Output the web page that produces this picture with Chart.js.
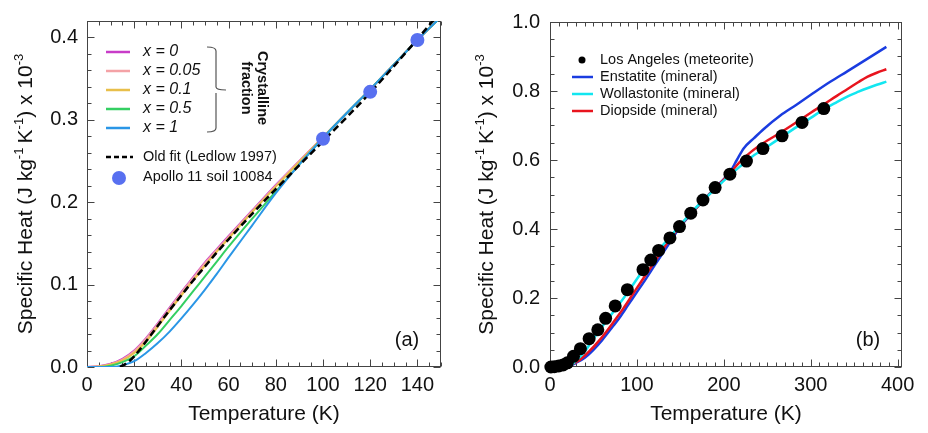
<!DOCTYPE html>
<html>
<head>
<meta charset="utf-8">
<script src="https://cdn.jsdelivr.net/npm/chart.js@4.4.1/dist/chart.umd.min.js"></script>
<style>
  html, body { margin: 0; padding: 0; background: #fff; }
  #wrap { position: relative; width: 928px; height: 433px; overflow: hidden; }
  .panel { position: absolute; top: 0; width: 464px; height: 433px; }
  #pa { left: 0; }
  #pb { left: 464px; }
</style>
</head>
<body>
<div id="wrap">
  <div class="panel" id="pa"><canvas id="ca" width="464" height="433"></canvas></div>
  <div class="panel" id="pb"><canvas id="cb" width="464" height="433"></canvas></div>
</div>
<script>
// ---------- Panel (a): regolith model for several crystalline fractions ----------
const tempA   = [0, 5, 10, 15, 20, 25, 30, 35, 40, 45, 50, 55, 60, 70, 80, 90, 100, 110, 120, 130, 140, 150];
const cpX0    = [0, 0.001, 0.004, 0.010, 0.020, 0.035, 0.053, 0.072, 0.091, 0.109, 0.127, 0.143, 0.159, 0.190, 0.221, 0.250, 0.279, 0.308, 0.337, 0.367, 0.397, 0.425];
const cpX005  = [0, 0.0008, 0.0035, 0.009, 0.019, 0.034, 0.052, 0.071, 0.090, 0.108, 0.126, 0.142, 0.158, 0.189, 0.220, 0.250, 0.279, 0.308, 0.337, 0.367, 0.397, 0.425];
const cpX01   = [0, 0.0005, 0.003, 0.008, 0.017, 0.031, 0.049, 0.068, 0.087, 0.105, 0.123, 0.140, 0.156, 0.188, 0.219, 0.249, 0.279, 0.308, 0.337, 0.367, 0.397, 0.425];
const cpX05   = [0, 0, 0.0015, 0.006, 0.013, 0.026, 0.040, 0.057, 0.074, 0.092, 0.110, 0.128, 0.146, 0.180, 0.213, 0.246, 0.278, 0.308, 0.337, 0.367, 0.397, 0.425];
const cpX1    = [0, 0, 0, 0.002, 0.007, 0.017, 0.029, 0.043, 0.059, 0.076, 0.094, 0.113, 0.133, 0.172, 0.211, 0.246, 0.278, 0.308, 0.337, 0.367, 0.397, 0.425];
const tempOldFit = [14, 17, 20, 25, 30, 35, 40, 45, 50, 55, 60, 70, 80, 90, 100, 110, 120, 130, 140, 150];
const cpOldFit   = [0, 0.005, 0.013, 0.031, 0.050, 0.069, 0.087, 0.105, 0.122, 0.139, 0.155, 0.186, 0.216, 0.245, 0.274, 0.303, 0.333, 0.365, 0.398, 0.432];
const apolloT  = [100, 120, 140];
const apolloCp = [0.277, 0.334, 0.397];
const xTicksA  = [0, 20, 40, 60, 80, 100, 120, 140];
const yTicksA  = [0.0, 0.1, 0.2, 0.3, 0.4];

// ---------- Panel (b): Los Angeles meteorite and pyroxene-group minerals ----------
const laT  = [1, 5, 10, 15, 20, 27, 35, 45, 55, 64, 75, 89, 107, 116, 125, 138, 149, 162, 176, 190, 207, 226, 245, 267, 290, 315];
const laCp = [0, 0.001, 0.003, 0.006, 0.012, 0.031, 0.053, 0.082, 0.108, 0.141, 0.177, 0.224, 0.282, 0.310, 0.338, 0.374, 0.407, 0.446, 0.484, 0.520, 0.559, 0.597, 0.633, 0.670, 0.709, 0.749];
const enstatiteT  = [20, 25, 30, 40, 50, 60, 70, 80, 90, 100, 110, 120, 135, 150, 165, 180, 195, 207, 215, 223, 235, 246, 265, 284, 303, 322, 342, 365, 387];
const enstatiteCp = [0, 0.006, 0.012, 0.027, 0.050, 0.078, 0.110, 0.143, 0.180, 0.217, 0.254, 0.293, 0.350, 0.407, 0.451, 0.493, 0.532, 0.565, 0.600, 0.634, 0.664, 0.690, 0.729, 0.761, 0.794, 0.826, 0.857, 0.893, 0.928];
const wollastoniteT  = [22, 30, 40, 50, 60, 70, 80, 90, 100, 110, 120, 135, 150, 165, 180, 195, 207, 220, 232, 246, 265, 284, 300, 315, 330, 342, 355, 365, 376, 387];
const wollastoniteCp = [0, 0.018, 0.045, 0.082, 0.117, 0.150, 0.184, 0.218, 0.255, 0.292, 0.325, 0.368, 0.412, 0.454, 0.492, 0.528, 0.556, 0.584, 0.609, 0.632, 0.664, 0.696, 0.722, 0.747, 0.768, 0.784, 0.798, 0.808, 0.818, 0.827];
const diopsideT  = [20, 25, 35, 45, 55, 65, 75, 85, 95, 105, 115, 125, 135, 150, 165, 180, 195, 207, 220, 232, 246, 265, 284, 300, 315, 330, 342, 355, 365, 376, 387];
const diopsideCp = [0, 0.007, 0.022, 0.045, 0.072, 0.103, 0.137, 0.172, 0.210, 0.248, 0.285, 0.323, 0.360, 0.410, 0.452, 0.492, 0.530, 0.562, 0.598, 0.625, 0.650, 0.679, 0.710, 0.737, 0.761, 0.786, 0.805, 0.826, 0.841, 0.853, 0.863];
const xTicksB = [0, 100, 200, 300, 400];
const yTicksB = [0.0, 0.2, 0.4, 0.6, 0.8, 1.0];

const FONT = "'Liberation Sans', Arial, Helvetica, sans-serif";
const INK = '#111';
Chart.defaults.font.family = FONT;
Chart.defaults.color = INK;

const pts = (xs, ys) => xs.map((v, i) => ({ x: v, y: ys[i] }));

function curve(label, xs, ys, color, order, extra) {
  return Object.assign({
    label, data: pts(xs, ys), borderColor: color, backgroundColor: color,
    borderWidth: 2, pointRadius: 0, fill: false, order,
    cubicInterpolationMode: 'monotone'
  }, extra || {});
}
function dots(label, xs, ys, color, radius, order, extra) {
  return Object.assign({
    label, data: pts(xs, ys), showLine: false, borderColor: color,
    backgroundColor: color, pointBackgroundColor: color, pointBorderWidth: 0,
    pointRadius: radius, order
  }, extra || {});
}

// y-axis title with raised exponents, drawn rotated
const yTitleParts = [
  { t: 'Specific Heat (J kg' }, { t: '-1', sup: true }, { t: '\u2009K' },
  { t: '-1', sup: true }, { t: ') x 10' }, { t: '-3', sup: true }
];
function drawYTitle(ctx, cx, cy, size) {
  ctx.save();
  ctx.translate(cx, cy);
  ctx.rotate(-Math.PI / 2);
  ctx.fillStyle = INK;
  ctx.textBaseline = 'alphabetic';
  ctx.textAlign = 'left';
  const items = yTitleParts.map(p => {
    const fs = p.sup ? size * 0.62 : size;
    ctx.font = fs + 'px ' + FONT;
    return { p, fs, w: ctx.measureText(p.t).width };
  });
  const total = items.reduce((s, it) => s + it.w, 0);
  let x = -total / 2;
  const base = size * 0.3;
  items.forEach(it => {
    ctx.font = it.fs + 'px ' + FONT;
    ctx.fillText(it.p.t, x, it.p.sup ? base - size * 0.42 : base);
    x += it.w;
  });
  ctx.restore();
}

// frame on all four sides with inward major/minor ticks, taken from the scales
function axesFrame(spec) {
  return {
    id: 'axesFrame',
    beforeDatasetsDraw(chart) {
      const { ctx, chartArea: a, scales: { x, y } } = chart;
      const L = Math.round(a.left) + 0.5, R = Math.round(a.right) - 0.5;
      const T = Math.round(a.top) + 0.5, B = Math.round(a.bottom) - 0.5;
      ctx.save();
      ctx.strokeStyle = '#444';
      ctx.lineWidth = 1;
      ctx.beginPath();
      const nx = Math.round((x.max - x.min) / spec.xMinor);
      for (let i = 0; i <= nx; i++) {
        const v = x.min + i * spec.xMinor;
        if (v > x.max + 1e-9) break;
        const r = v / spec.xMajor;
        const len = Math.abs(r - Math.round(r)) < 1e-6 ? 7 : 4;
        const px = Math.round(x.getPixelForValue(v)) + 0.5;
        ctx.moveTo(px, B); ctx.lineTo(px, B - len);
        ctx.moveTo(px, T); ctx.lineTo(px, T + len);
      }
      const ny = Math.round((y.max - y.min) / spec.yMinor);
      for (let i = 0; i <= ny; i++) {
        const v = y.min + i * spec.yMinor;
        if (v > y.max + 1e-9) break;
        const r = v / spec.yMajor;
        const len = Math.abs(r - Math.round(r)) < 1e-6 ? 7 : 4;
        const py = Math.round(y.getPixelForValue(v)) + 0.5;
        ctx.moveTo(L, py); ctx.lineTo(L + len, py);
        ctx.moveTo(R, py); ctx.lineTo(R - len, py);
      }
      ctx.stroke();
      ctx.strokeRect(L, T, R - L, B - T);
      ctx.restore();
    },
    afterDraw(chart) {
      const a = chart.chartArea;
      drawYTitle(chart.ctx, spec.titleX, (a.top + a.bottom) / 2, 21);
      const ctx = chart.ctx;
      ctx.save();
      ctx.fillStyle = INK;
      ctx.font = '20px ' + FONT;
      ctx.textAlign = 'center';
      ctx.textBaseline = 'middle';
      ctx.fillText(spec.tag, a.right - 34, a.bottom - 27);
      ctx.restore();
    }
  };
}

function scalesFor(xMax, yMax, xTicks, yTicks, yDigits, yPad, yWidth) {
  return {
    x: {
      type: 'linear', min: 0, max: xMax,
      grid: { display: false, drawTicks: false, tickLength: 0 },
      border: { display: false },
      afterBuildTicks: s => { s.ticks = xTicks.map(v => ({ value: v })); },
      ticks: { padding: 6, maxRotation: 0, autoSkip: false, font: { size: 20 }, color: INK,
               callback: v => String(v) },
      title: { display: true, text: 'Temperature (K)', font: { size: 21 }, color: INK,
               padding: { top: 0, bottom: 6 } },
      afterFit: s => { s.height = 66; }
    },
    y: {
      type: 'linear', min: 0, max: yMax,
      grid: { display: false, drawTicks: false, tickLength: 0 },
      border: { display: false },
      afterBuildTicks: s => { s.ticks = yTicks.map(v => ({ value: v })); },
      ticks: { padding: yPad, autoSkip: false, font: { size: 20 }, color: INK,
               callback: v => Number(v).toFixed(yDigits) },
      title: { display: false },
      afterFit: s => { s.width = yWidth; }
    }
  };
}

// ---------- Panel (a) ----------
const legendA = {
  id: 'legendA',
  afterDraw(chart) {
    const { ctx, chartArea: a } = chart;
    const ds = chart.data.datasets;
    const L = a.left, T = a.top;
    ctx.save();
    ctx.textBaseline = 'middle';
    ctx.textAlign = 'left';
    ctx.fillStyle = INK;
    for (let i = 0; i < 5; i++) {
      const y = T + 31 + i * 19;
      ctx.strokeStyle = ds[i].borderColor;
      ctx.lineWidth = 2.5;
      ctx.beginPath(); ctx.moveTo(L + 19, y); ctx.lineTo(L + 43, y); ctx.stroke();
      ctx.font = 'italic 16px ' + FONT;
      ctx.fillText(ds[i].label, L + 56, y);
    }
    // old fit
    let y = T + 136;
    ctx.strokeStyle = ds[5].borderColor;
    ctx.lineWidth = 2.5;
    ctx.setLineDash([5, 3]);
    ctx.beginPath(); ctx.moveTo(L + 19, y); ctx.lineTo(L + 46, y); ctx.stroke();
    ctx.setLineDash([]);
    ctx.font = '14.5px ' + FONT;
    ctx.fillText(ds[5].label, L + 56, y);
    // sample points
    y = T + 156;
    ctx.fillStyle = ds[6].backgroundColor;
    ctx.beginPath(); ctx.arc(L + 32, y + 1, 7, 0, Math.PI * 2); ctx.fill();
    ctx.fillStyle = INK;
    ctx.fillText(ds[6].label, L + 56, y);
    // brace grouping the crystalline-fraction curves
    ctx.strokeStyle = '#555';
    ctx.lineWidth = 1.2;
    const bx = L + 129, bt = T + 26, bb = T + 111, bm = T + 69;
    ctx.beginPath();
    ctx.moveTo(L + 120, bt); ctx.quadraticCurveTo(bx, bt, bx, bt + 4);
    ctx.lineTo(bx, bm - 3); ctx.quadraticCurveTo(bx, bm, bx + 10, bm);
    ctx.moveTo(bx, bm + 3); ctx.lineTo(bx, bb - 4);
    ctx.quadraticCurveTo(bx, bb, L + 120, bb);
    ctx.stroke();
    // group caption
    ctx.save();
    ctx.translate(L + 167, T + 67);
    ctx.rotate(Math.PI / 2);
    ctx.font = 'bold 14.5px ' + FONT;
    ctx.textAlign = 'center';
    ctx.textBaseline = 'middle';
    ctx.fillStyle = INK;
    ctx.fillText('Crystalline', 0, -8);
    ctx.fillText('fraction', 0, 8);
    ctx.restore();
    ctx.restore();
  }
};

new Chart(document.getElementById('ca'), {
  type: 'line',
  data: {
    datasets: [
      curve('x = 0',    tempA, cpX0,   '#c83cc8', 7),
      curve('x = 0.05', tempA, cpX005, '#f4a2a6', 6),
      curve('x = 0.1',  tempA, cpX01,  '#e8bf4a', 5),
      curve('x = 0.5',  tempA, cpX05,  '#34cf62', 4),
      curve('x = 1',    tempA, cpX1,   '#2a96e6', 3),
      curve('Old fit (Ledlow 1997)', tempOldFit, cpOldFit, '#000000', 2,
            { borderWidth: 2.5, borderDash: [7, 4] }),
      dots('Apollo 11 soil 10084', apolloT, apolloCp, '#5870f0', 7, 1)
    ]
  },
  options: {
    responsive: false, animation: false, events: [],
    layout: { padding: { top: 12, right: 23, bottom: 0, left: 0 } },
    plugins: { legend: { display: false }, tooltip: { enabled: false } },
    scales: scalesFor(150, 0.42, xTicksA, yTicksA, 1, 9, 87)
  },
  plugins: [axesFrame({ xMinor: 5, xMajor: 20, yMinor: 0.02, yMajor: 0.1, titleX: 26, tag: '(a)' }), legendA]
});

// ---------- Panel (b) ----------
const legendB = {
  id: 'legendB',
  afterDraw(chart) {
    const { ctx, chartArea: a } = chart;
    const ds = chart.data.datasets;
    const L = a.left, T = a.top;
    ctx.save();
    ctx.textBaseline = 'middle';
    ctx.textAlign = 'left';
    ctx.font = '14.5px ' + FONT;
    ds.forEach((d, i) => {
      const y = T + 38 + i * 17;
      if (d.showLine === false) {
        ctx.fillStyle = d.backgroundColor;
        ctx.beginPath(); ctx.arc(L + 32, y, 3.5, 0, Math.PI * 2); ctx.fill();
      } else {
        ctx.strokeStyle = d.borderColor;
        ctx.lineWidth = 2.5;
        ctx.beginPath(); ctx.moveTo(L + 22, y); ctx.lineTo(L + 43, y); ctx.stroke();
      }
      ctx.fillStyle = INK;
      ctx.fillText(d.label, L + 50, y);
    });
    ctx.restore();
  }
};

new Chart(document.getElementById('cb'), {
  type: 'line',
  data: {
    datasets: [
      dots('Los Angeles (meteorite)', laT, laCp, '#000000', 6.5, 1, { clip: false }),
      curve('Enstatite (mineral)',    enstatiteT, enstatiteCp, '#1a3ce0', 4, { borderWidth: 2.5 }),
      curve('Wollastonite (mineral)', wollastoniteT, wollastoniteCp, '#12e6f0', 2, { borderWidth: 2.5 }),
      curve('Diopside (mineral)',     diopsideT, diopsideCp, '#e8141e', 3, { borderWidth: 2.5 })
    ]
  },
  options: {
    responsive: false, animation: false, events: [],
    layout: { padding: { top: 12, right: 26, bottom: 0, left: 0 } },
    plugins: { legend: { display: false }, tooltip: { enabled: false } },
    scales: scalesFor(405, 1.0, xTicksB, yTicksB, 1, 10, 86)
  },
  plugins: [axesFrame({ xMinor: 10, xMajor: 100, yMinor: 0.05, yMajor: 0.2, titleX: 23, tag: '(b)' }), legendB]
});
</script>
</body>
</html>
